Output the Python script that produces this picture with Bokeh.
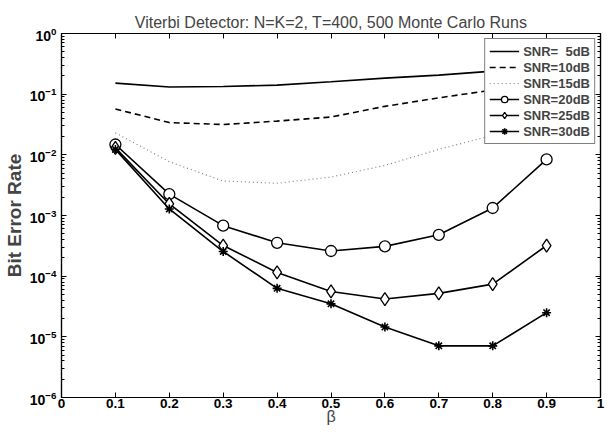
from bokeh.plotting import figure
from bokeh.models import LogAxis, LinearAxis, FixedTicker, Range1d, CustomJSTickFormatter
from bokeh.embed import file_html
from bokeh.resources import INLINE

beta = [0.1, 0.2, 0.3, 0.4, 0.5, 0.6, 0.7, 0.8, 0.9]
ber_5db = [0.152, 0.131, 0.134, 0.141, 0.160, 0.184, 0.206, 0.240, 0.275]
ber_10db = [0.057, 0.034, 0.0316, 0.036, 0.042, 0.063, 0.087, 0.117, 0.17]
ber_15db = [0.023, 0.0077, 0.0037, 0.0034, 0.0043, 0.0067, 0.0123, 0.021, 0.045]
ber_20db = [0.0148, 0.00225, 0.00068, 0.000355, 0.00026, 0.00031, 0.00048, 0.00133, 0.0084]
ber_25db = [0.013, 0.00155, 0.00032, 0.000115, 0.000056, 0.000042, 0.000052, 0.000074, 0.00032]
ber_30db = [0.0123, 0.00128, 0.000255, 0.000063, 0.000035, 0.0000145, 0.0000071, 0.0000071, 0.000025]

x_ticks = [0, 0.1, 0.2, 0.3, 0.4, 0.5, 0.6, 0.7, 0.8, 0.9, 1]
x_tick_labels = ["0", "0.1", "0.2", "0.3", "0.4", "0.5", "0.6", "0.7", "0.8", "0.9", "1"]
y_ticks = [1e-6, 1e-5, 1e-4, 1e-3, 1e-2, 1e-1, 1]
y_minor = [m * 10.0 ** e for e in range(-6, 0) for m in range(2, 10)]

labels = ["SNR=\u20075dB", "SNR=10dB", "SNR=15dB", "SNR=20dB", "SNR=25dB", "SNR=30dB"]

FONT = "Liberation Sans"

p = figure(width=605, height=427, y_axis_type="log",
           x_range=Range1d(0, 1), y_range=Range1d(1e-6, 1),
           output_backend="svg", toolbar_location=None,
           title="Viterbi Detector: N=K=2, T=400, 500 Monte Carlo Runs",
           min_border_left=59, min_border_right=5, min_border_top=33, min_border_bottom=26)

p.title.align = "center"
p.title.text_font = FONT
p.title.text_font_style = "normal"
p.title.text_font_size = "16px"
p.title.standoff = 6
p.xgrid.visible = False
p.ygrid.visible = False
p.outline_line_color = "black"
p.outline_line_width = 1.2
p.background_fill_color = "white"
p.border_fill_color = "white"

def style_axis(ax):
    ax.axis_line_color = "black"
    ax.axis_line_width = 1.2
    ax.major_tick_in = 5
    ax.major_tick_out = 0
    ax.minor_tick_in = 3
    ax.minor_tick_out = 0
    ax.major_tick_line_color = "black"
    ax.minor_tick_line_color = "black"
    ax.major_label_text_font = FONT
    ax.major_label_text_font_style = "bold"
    ax.major_label_text_font_size = "14px"
    ax.major_label_standoff = 5
    ax.major_label_text_color = "black"

xax = p.xaxis[0]
xax.ticker = FixedTicker(ticks=x_ticks)
xax.major_label_overrides = dict(zip(x_ticks, x_tick_labels))
style_axis(xax)
xax.major_label_text_font_size = "13.5px"
xax.major_label_standoff = 1
xax.axis_label = "\u03b2"
xax.axis_label_text_font = FONT
xax.axis_label_text_font_style = "normal"
xax.axis_label_text_font_size = "16px"
xax.axis_label_standoff = -3

yax = p.yaxis[0]
yax.ticker = FixedTicker(ticks=y_ticks, minor_ticks=y_minor)
style_axis(yax)
yax.axis_label = "Bit Error Rate"
yax.axis_label_text_font = FONT
yax.axis_label_text_font_style = "bold"
yax.axis_label_text_font_size = "19px"
yax.axis_label_standoff = 2

blank = CustomJSTickFormatter(code="return '';")
top = LinearAxis(ticker=FixedTicker(ticks=x_ticks), formatter=blank)
style_axis(top)
top.major_label_standoff = 0
top.major_label_text_font_size = "1px"
p.add_layout(top, "above")
right = LogAxis(ticker=FixedTicker(ticks=y_ticks, minor_ticks=y_minor), formatter=blank)
style_axis(right)
right.major_label_standoff = 0
right.major_label_text_font_size = "1px"
p.add_layout(right, "right")

lw = 1.6
p.line(beta, ber_5db, line_color="black", line_width=lw, legend_label=labels[0])
p.line(beta, ber_10db, line_color="black", line_width=lw, line_dash="6 4", legend_label=labels[1])
p.line(beta, ber_15db, line_color="#808080", line_width=1.2, line_dash="1 3", legend_label=labels[2])
p.line(beta, ber_20db, line_color="black", line_width=lw, legend_label=labels[3])
p.scatter(beta, ber_20db, marker="circle", size=11, line_color="black", line_width=1.3,
          fill_color="white", legend_label=labels[3])
p.line(beta, ber_25db, line_color="black", line_width=lw, legend_label=labels[4])
p.scatter(beta, ber_25db, marker="diamond", size=13, line_color="black", line_width=1.3,
          fill_color="white", legend_label=labels[4])
p.line(beta, ber_30db, line_color="black", line_width=lw, legend_label=labels[5])
p.scatter(beta, ber_30db, marker="asterisk", size=9, line_color="black", line_width=1.6,
          legend_label=labels[5])

lg = p.legend[0]
lg.location = "top_right"
lg.margin = 5
lg.padding = 4
lg.spacing = 0
lg.label_text_font = FONT
lg.label_text_font_style = "bold"
lg.label_text_font_size = "13px"
lg.label_height = 16
lg.glyph_height = 16
lg.glyph_width = 30
lg.label_standoff = 4
lg.border_line_color = "black"
lg.border_line_width = 1.2
lg.background_fill_alpha = 1

open("out.html", "w").write(file_html(p, INLINE))
